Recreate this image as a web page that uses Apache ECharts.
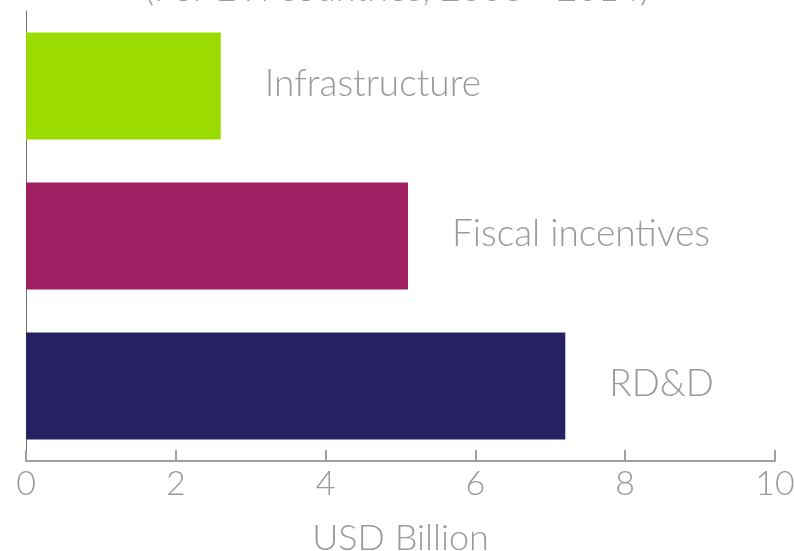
<!DOCTYPE html>
<html>
<head>
<meta charset="utf-8">
<script src="https://cdn.jsdelivr.net/npm/echarts@6/dist/echarts.min.js"></script>
<style>
  html, body { margin: 0; padding: 0; background: #fff; }
  #chart { width: 794px; height: 551px; }
</style>
</head>
<body>
<div id="chart"></div>
<script>
// Public EV spending by category, bottom to top
const categories = ['RD&D', 'Fiscal incentives', 'Infrastructure'];
const values = [7.2, 5.1, 2.6];
const barColors = ['#262262', '#a01e62', '#9bdb00'];
const xTicks = [0, 2, 4, 6, 8, 10];
const subtitle = '(For EVI countries, 2008 - 2014)';
const xAxisName = 'USD Billion';

const FONT = 'Lato';
const GREY = '#9a9a9a';

const chart = echarts.init(document.getElementById('chart'));
chart.setOption({
  animation: false,
  graphic: [{
    type: 'text',
    left: 'center',
    top: -29,
    style: { text: subtitle, fontFamily: FONT, fontWeight: 300, fontSize: 36, fill: GREY }
  }],
  grid: { left: 26, right: 19, top: 11, bottom: 90, outerBoundsMode: 'none' },
  xAxis: {
    type: 'value',
    min: xTicks[0],
    max: xTicks[xTicks.length - 1],
    interval: 2,
    name: xAxisName,
    nameLocation: 'middle',
    nameGap: 59,
    nameTextStyle: { fontFamily: FONT, fontWeight: 300, fontSize: 36, color: GREY },
    axisLine: { show: true, lineStyle: { color: '#a0a0a0', width: 2 } },
    axisTick: { show: true, inside: true, length: 11, lineStyle: { color: '#a0a0a0', width: 2 } },
    axisLabel: { fontFamily: FONT, fontWeight: 300, fontSize: 34, color: GREY, margin: 6 },
    splitLine: { show: false }
  },
  yAxis: {
    type: 'category',
    data: categories,
    axisLine: { show: true, lineStyle: { color: '#707070', width: 1 } },
    axisTick: { show: false },
    axisLabel: { show: false }
  },
  series: [{
    type: 'bar',
    data: values.map((v, i) => ({ value: v, itemStyle: { color: barColors[i] } })),
    barWidth: 107,
    label: {
      show: true,
      position: 'right',
      distance: 44,
      offset: [0, -2],
      formatter: p => p.name,
      fontFamily: FONT,
      fontWeight: 300,
      fontSize: 37,
      color: GREY
    }
  }]
});
</script>
</body>
</html>
